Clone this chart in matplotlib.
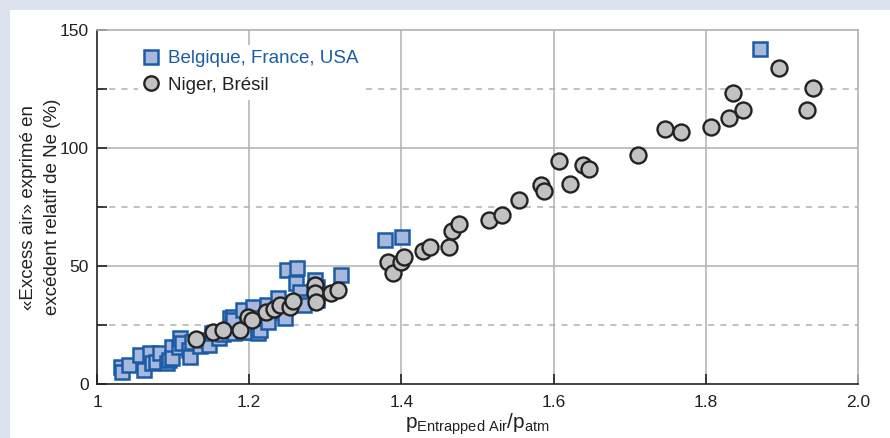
import matplotlib
matplotlib.use('Agg')
import matplotlib.pyplot as plt
from matplotlib.patches import Rectangle

plt.rcParams['font.family'] = ['Liberation Sans', 'DejaVu Sans']
plt.rcParams['mathtext.fontset'] = 'custom'
plt.rcParams['mathtext.rm'] = 'Liberation Sans'
plt.rcParams['mathtext.it'] = 'Liberation Sans'

# Belgique, France, USA (squares)
sq_x = [1.032, 1.033, 1.042, 1.057, 1.062, 1.070, 1.072, 1.078, 1.083, 1.092,
        1.095, 1.099, 1.099, 1.108, 1.109, 1.112, 1.121, 1.122, 1.125, 1.135,
        1.145, 1.147, 1.151, 1.160, 1.165, 1.175, 1.178, 1.180, 1.179, 1.179,
        1.192, 1.192, 1.195, 1.205, 1.211, 1.212, 1.214, 1.212, 1.224, 1.225,
        1.238, 1.243, 1.247, 1.250, 1.263, 1.261, 1.267, 1.270, 1.272, 1.287,
        1.289, 1.289, 1.320, 1.378, 1.401, 1.871]
sq_y = [7.2, 5.1, 8.1, 12.3, 5.9, 13.1, 8.9, 9.3, 13.1, 8.9,
        10.2, 15.7, 11.0, 15.7, 19.5, 17.4, 14.4, 11.4, 17.8, 16.0,
        18.6, 16.5, 21.6, 19.5, 21.0, 28.0, 24.2, 21.6, 28.4, 27.1,
        31.4, 22.0, 22.0, 32.6, 24.2, 21.6, 22.9, 28.0, 33.5, 26.3,
        36.4, 30.5, 28.0, 48.3, 49.2, 42.8, 39.0, 34.7, 33.5, 44.1,
        41.1, 35.6, 46.2, 61.0, 62.3, 141.9]

# Niger, Brésil (circles)
ci_x = [1.130, 1.153, 1.166, 1.188, 1.199, 1.204, 1.222, 1.233, 1.241, 1.254,
        1.257, 1.286, 1.286, 1.288, 1.307, 1.317, 1.382, 1.389, 1.400, 1.403,
        1.428, 1.437, 1.462, 1.467, 1.476, 1.515, 1.532, 1.554, 1.584, 1.587,
        1.607, 1.622, 1.639, 1.646, 1.711, 1.746, 1.768, 1.807, 1.830, 1.836,
        1.849, 1.896, 1.933, 1.941]
ci_y = [19.1, 22.0, 22.9, 22.9, 28.4, 27.1, 30.5, 31.8, 33.5, 32.6,
        35.2, 41.9, 38.6, 34.7, 38.6, 39.8, 51.7, 47.0, 51.7, 53.8,
        56.4, 58.1, 58.1, 64.8, 67.8, 69.5, 71.6, 78.0, 84.3, 81.8,
        94.5, 84.7, 92.8, 91.1, 97.0, 108.1, 106.8, 108.9, 112.7, 123.3,
        116.1, 133.9, 116.1, 125.4]

x_ticks = [1.0, 1.2, 1.4, 1.6, 1.8, 2.0]
x_ticklabels = ['1', '1.2', '1.4', '1.6', '1.8', '2.0']
y_ticks = [0, 50, 100, 150]
y_minor = [25, 75, 125]

blue = '#1a5ca6'
grid_c = '#b0b0b0'
dark = '#222222'

fig = plt.figure(figsize=(8.9, 4.38), dpi=100)
fig.patches.append(Rectangle((0, 0), 1, 1, transform=fig.transFigure,
                             facecolor='white', edgecolor='none', zorder=-10))
fig.patches.append(Rectangle((0, 1 - 10 / 438), 1, 10 / 438, transform=fig.transFigure,
                             facecolor='#dde3ee', edgecolor='none', zorder=-9))
fig.patches.append(Rectangle((0, 0), 10 / 890, 1, transform=fig.transFigure,
                             facecolor='#dde3ee', edgecolor='none', zorder=-9))

ax = fig.add_axes([97 / 890, 54 / 438, 761 / 890, 354 / 438])
ax.set_xlim(1, 2)
ax.set_ylim(0, 150)

# grid
for xv in x_ticks[1:-1]:
    ax.axvline(xv, color=grid_c, lw=1.1, zorder=1)
for yv in [50, 100]:
    ax.axhline(yv, color=grid_c, lw=1.1, zorder=1)
for yv in y_minor:
    ax.axhline(yv, color=grid_c, lw=1.1, ls=(0, (4, 4)), zorder=1)

ax.plot(sq_x, sq_y, 's', ls='none', ms=10.5, mfc='#a8b7dc', mec=blue, mew=1.8,
        zorder=3, label='Belgique, France, USA')
ax.plot(ci_x, ci_y, 'o', ls='none', ms=11.5, mfc='#c2c2c4', mec=dark, mew=1.7,
        zorder=4, label='Niger, Brésil')

ax.set_xticks(x_ticks)
ax.set_xticklabels(x_ticklabels)
ax.set_yticks(y_ticks)
ax.set_yticks(y_minor, minor=True)
ax.tick_params(axis='both', which='both', direction='in', length=7, width=1.2,
               color=dark, labelsize=12.5, labelcolor=dark)
ax.tick_params(axis='x', pad=8)
ax.tick_params(axis='y', pad=6)
ax.tick_params(top=False, right=False)

for s in ['left', 'bottom']:
    ax.spines[s].set_color(dark)
    ax.spines[s].set_linewidth(1.2)
for s in ['top', 'right']:
    ax.spines[s].set_color(grid_c)
    ax.spines[s].set_linewidth(1.2)

ax.set_ylabel('«Excess air» exprimé en\nexcédent relatif de Ne (%)',
              fontsize=13.5, color=dark, labelpad=-1, linespacing=1.5)
ax.set_xlabel(r'$\mathregular{p_{Entrapped\ Air}/p_{atm}}$', fontsize=15,
              color=dark, labelpad=1)

leg = ax.legend(loc='upper left', bbox_to_anchor=(0.042, 0.985), fontsize=13.5,
                frameon=True, fancybox=False, edgecolor='none', framealpha=1,
                handlelength=0.7, handletextpad=0.6, labelspacing=0.5,
                borderpad=0.3, markerscale=0.9)
leg.get_texts()[0].set_color(blue)
leg.get_texts()[1].set_color(dark)
leg.set_zorder(5)

fig.savefig('out.png', dpi=100)
